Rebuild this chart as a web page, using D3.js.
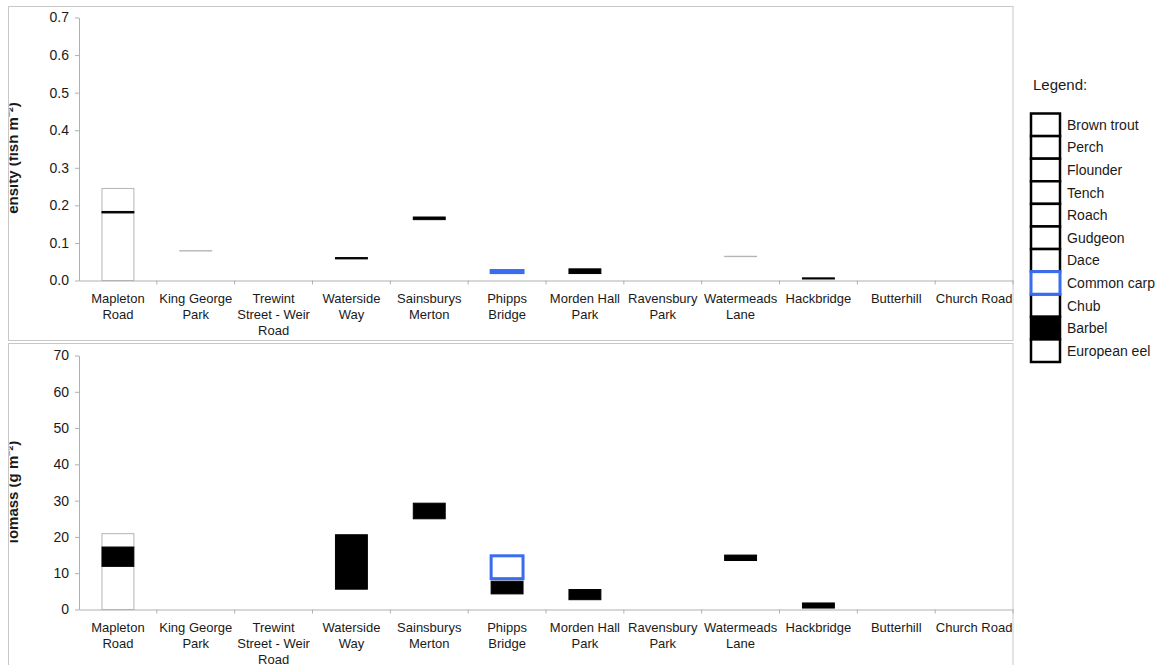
<!DOCTYPE html>
<html>
<head>
<meta charset="utf-8">
<script src="https://cdn.jsdelivr.net/npm/d3@7"></script>
<style>
  body { margin: 0; background: #fff; }
  svg { font-family: "Liberation Sans", Arial, sans-serif; }
  .axis path, .axis line { stroke: #b0b0b0; }
  .axis text { fill: #1a1a1a; font-size: 14px; }
</style>
</head>
<body>
<div id="chart"></div>
<script>
// sites along the x axis
const sites = ["Mapleton Road", "King George Park", "Trewint Street - Weir Road", "Waterside Way",
  "Sainsburys Merton", "Phipps Bridge", "Morden Hall Park", "Ravensbury Park",
  "Watermeads Lane", "Hackbridge", "Butterhill", "Church Road"];
const siteLabels = [["Mapleton", "Road"], ["King George", "Park"], ["Trewint", "Street - Weir", "Road"],
  ["Waterside", "Way"], ["Sainsburys", "Merton"], ["Phipps", "Bridge"], ["Morden Hall", "Park"],
  ["Ravensbury", "Park"], ["Watermeads", "Lane"], ["Hackbridge"], ["Butterhill"], ["Church Road"]];

const species = ["Brown trout", "Perch", "Flounder", "Tench", "Roach", "Gudgeon", "Dace",
  "Common carp", "Chub", "Barbel", "European eel"];

// floating segments [site, species, from, to]
const densitySegments = [
  ["Mapleton Road", "European eel", 0, 0.18],
  ["Mapleton Road", "Chub", 0.184, 0.245],
  ["Mapleton Road", "Barbel", 0.18, 0.1835],
  ["King George Park", "Chub", 0.0785, 0.0795],
  ["Waterside Way", "Barbel", 0.0575, 0.061],
  ["Sainsburys Merton", "Barbel", 0.162, 0.169],
  ["Phipps Bridge", "Common carp", 0.021, 0.0265],
  ["Morden Hall Park", "Barbel", 0.0185, 0.031],
  ["Watermeads Lane", "Chub", 0.0635, 0.0645],
  ["Hackbridge", "Barbel", 0.004, 0.007]
];
const biomassSegments = [
  ["Mapleton Road", "European eel", 0, 11.9],
  ["Mapleton Road", "Chub", 17.2, 20.9],
  ["Mapleton Road", "Barbel", 11.9, 17.2],
  ["Waterside Way", "Barbel", 5.6, 20.6],
  ["Sainsburys Merton", "Barbel", 25.0, 29.3],
  ["Phipps Bridge", "Barbel", 4.3, 7.8],
  ["Phipps Bridge", "Common carp", 8.5, 14.8],
  ["Morden Hall Park", "Barbel", 2.7, 5.5],
  ["Watermeads Lane", "Barbel", 13.5, 15.0],
  ["Hackbridge", "Barbel", 0.4, 1.8]
];

const densityTicks = [0, 0.1, 0.2, 0.3, 0.4, 0.5, 0.6, 0.7];
const biomassTicks = [0, 10, 20, 30, 40, 50, 60, 70];

const blue = "#3a6cf0";
function segFill(sp) { return sp === "Barbel" ? "#000" : "#fff"; }
function segStroke(sp) {
  if (sp === "Barbel") return "#000";
  if (sp === "Common carp") return blue;
  return "#b4b4b4";
}
function segWidth(sp) { return sp === "Common carp" ? 3 : 1; }

const W = 1163, H = 665;
const svg = d3.select("#chart").append("svg").attr("width", W).attr("height", H);

const x = d3.scaleBand().domain(sites).range([79, 1013]);
const barW = x.bandwidth() * 0.41;

function panel(cfg) {
  // frame
  svg.append("rect")
    .attr("x", 8.5).attr("y", cfg.frameTop + 0.5)
    .attr("width", 1004.5).attr("height", cfg.frameH)
    .attr("fill", "none").attr("stroke", "#c8c8c8");

  const y = d3.scaleLinear().domain([0, d3.max(cfg.ticks)]).range([cfg.y0, cfg.y1]);

  svg.append("g").attr("class", "axis")
    .attr("transform", "translate(79,0)")
    .call(d3.axisLeft(y).tickValues(cfg.ticks).tickFormat(cfg.fmt).tickSize(4).tickSizeOuter(0).tickPadding(6));

  const xa = svg.append("g").attr("class", "axis")
    .attr("transform", "translate(0," + cfg.y0 + ")")
    .call(d3.axisBottom(x).tickSize(0).tickFormat(""));
  xa.selectAll(".tick").remove();

  // boundary ticks
  xa.selectAll(".bt").data(sites.slice(1).concat(["end"])).enter().append("line")
    .attr("x1", (d, i) => i < sites.length - 1 ? x(d) : 1013)
    .attr("x2", (d, i) => i < sites.length - 1 ? x(d) : 1013)
    .attr("y1", 0).attr("y2", 4).attr("stroke", "#b0b0b0");

  // category labels
  const lab = svg.append("g").selectAll("text").data(sites).enter().append("text")
    .attr("text-anchor", "middle").attr("font-size", 13).attr("fill", "#1a1a1a")
    .attr("x", d => x(d) + x.bandwidth() / 2)
    .attr("y", cfg.y0 + 22);
  lab.each(function(d, i) {
    d3.select(this).selectAll("tspan").data(siteLabels[i]).enter().append("tspan")
      .attr("x", x(d) + x.bandwidth() / 2)
      .attr("dy", (t, j) => j === 0 ? 0 : 16)
      .text(t => t);
  });

  // segments
  svg.append("g").selectAll("rect").data(cfg.data).enter().append("rect")
    .attr("x", d => x(d[0]) + (x.bandwidth() - barW) / 2)
    .attr("width", barW)
    .attr("y", d => y(d[3]))
    .attr("height", d => Math.max(0.3, y(d[2]) - y(d[3])))
    .attr("fill", d => segFill(d[1]))
    .attr("stroke", d => segStroke(d[1]))
    .attr("stroke-width", d => segWidth(d[1]));

  // y title, cut off at the left and with its first letter hidden, as in the source
  const cid = "clip" + cfg.frameTop;
  const clipRect = svg.append("clipPath").attr("id", cid).append("rect")
    .attr("x", 9.5).attr("width", 40);
  const t = svg.append("g").attr("clip-path", "url(#" + cid + ")")
    .append("text")
    .attr("text-anchor", "start")
    .attr("font-size", 15).attr("font-weight", "bold").attr("fill", "#1a1a1a")
    .text(cfg.title);
  const node = t.node();
  const full = node.getComputedTextLength();
  const first = node.getSubStringLength(0, 1);
  const visible = full - first;
  const startY = cfg.titleMid + visible / 2 + first;   // where the hidden first letter begins
  t.attr("transform", "translate(17.5," + startY + ") rotate(-90)");
  clipRect.attr("y", cfg.frameTop).attr("height", startY - first - cfg.frameTop);
}

panel({ frameTop: 6, frameH: 334, y0: 280.5, y1: 17.5, ticks: densityTicks, fmt: d3.format(".1f"),
  data: densitySegments, title: "Density (fish m\u207B\u00B2)", titleMid: 158 });
panel({ frameTop: 343, frameH: 330, y0: 609.5, y1: 355.5, ticks: biomassTicks, fmt: d3.format("d"),
  data: biomassSegments, title: "Biomass (g m\u207B\u00B2)", titleMid: 492 });

// legend
svg.append("text").attr("x", 1033).attr("y", 90).attr("font-size", 15).attr("fill", "#1a1a1a").text("Legend:");
const legY = d3.scaleBand().domain(species).range([113.5, 362]);
const leg = svg.append("g").selectAll("g").data(species).enter().append("g")
  .attr("transform", d => "translate(1031," + legY(d) + ")");
leg.append("rect")
  .attr("width", 29).attr("height", legY.bandwidth())
  .attr("fill", d => d === "Barbel" ? "#000" : "#fff")
  .attr("stroke", d => d === "Common carp" ? blue : "#000")
  .attr("stroke-width", d => d === "Common carp" ? 3 : 2.5);
leg.append("text").attr("x", 36).attr("y", legY.bandwidth() / 2 + 5)
  .attr("font-size", 14).attr("fill", "#1a1a1a").text(d => d);
// keep the carp box on top so its blue border shows fully
leg.filter(d => d === "Common carp").raise();
</script>
</body>
</html>
